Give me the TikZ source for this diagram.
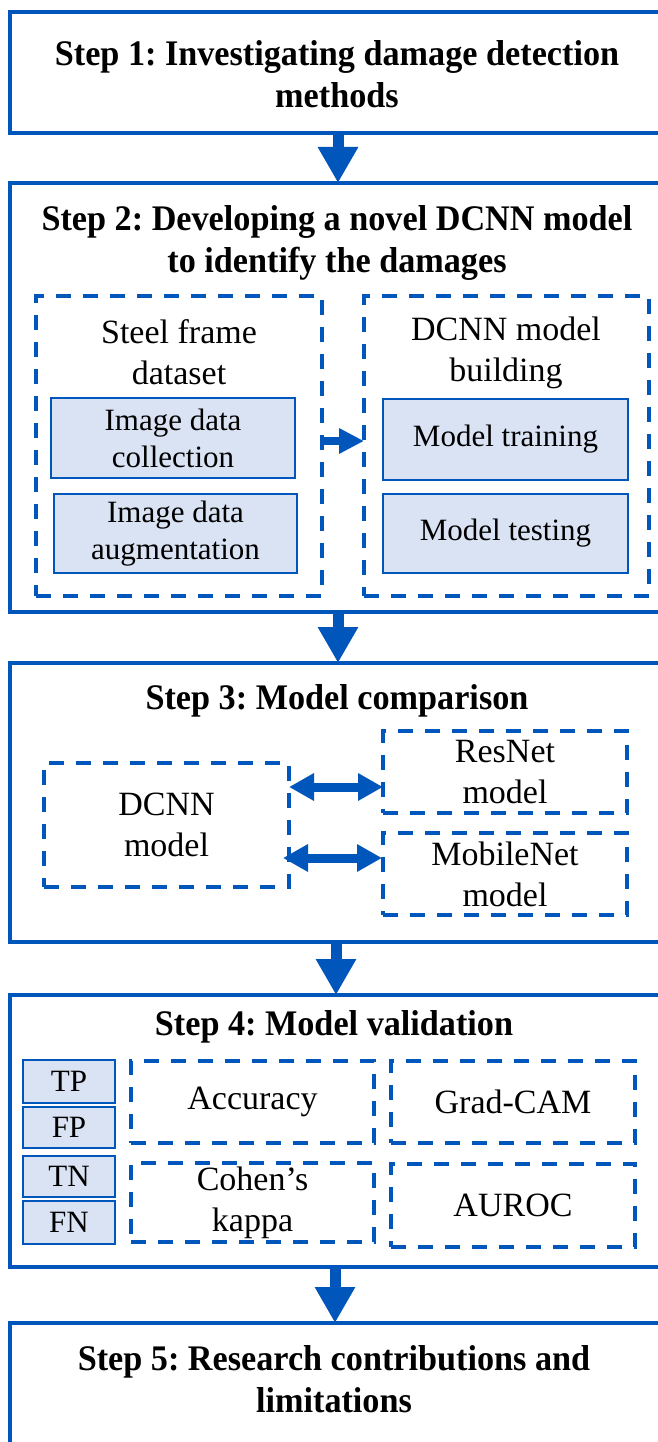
\documentclass[tikz,border=0pt]{standalone}
\usepackage{fontspec}
\setmainfont{Liberation Serif}[BoldFeatures={FakeStretch=0.95}]
\usetikzlibrary{arrows.meta}
\definecolor{flowblue}{RGB}{0,86,186}
\definecolor{cellfill}{RGB}{218,227,243}
\frenchspacing

\begin{document}
\begin{tikzpicture}[x=1pt,y=-1pt,
  % rectangle given by its corners: x1/y1/x2/y2
  rect/.style args={#1/#2/#3/#4}{inner sep=0pt, outer sep=0pt,
    minimum width={(#3)-(#1)}, minimum height={(#4)-(#2)},
    at={({((#1)+(#3))/2},{((#2)+(#4))/2})}},
  stepbox/.style={draw=flowblue, line width=3.5pt, fill=white},
  groupbox/.style={draw=flowblue, line width=3.5pt, dash pattern=on 15pt off 12pt},
  cellbox/.style={draw=flowblue, line width=2.5pt, fill=cellfill},
  titletext/.style={font=\fontsize{36}{42}\selectfont\bfseries, align=center, inner sep=0pt},
  grouptext/.style={font=\fontsize{34}{41}\selectfont, align=center},
  celltext/.style={font=\fontsize{31}{37}\selectfont, align=center},
  bigarrow/.style={draw=flowblue, line width=11pt, -{Triangle[width=38pt,length=36pt]}},
  smallarrow/.style={draw=flowblue, line width=8pt, -{Triangle[width=24pt,length=25pt]}},
  dblarrow/.style={draw=flowblue, line width=9pt, {Triangle[width=26pt,length=25pt]}-{Triangle[width=26pt,length=25pt]}},
]
\useasboundingbox (0,0) rectangle (657,1442);
\fill[white] (0,0) rectangle (657,1442);

% ---- Step boxes ----
\node[stepbox, rect=10/12/666/133] (s1) {};
\node[stepbox, rect=10/183/666/612] (s2) {};
\node[stepbox, rect=10/663/666/942] (s3) {};
\node[stepbox, rect=10/995/666/1267] (s4) {};
\node[stepbox, rect=10/1323/666/1470] (s5) {};

\node[titletext] (t1) at (337,74) {Step 1: Investigating damage detection\\methods};
\node[titletext] (t2) at (337,243) {Step 2: Developing a novel DCNN model\\to identify the damages};
\node[titletext] (t3) at (337,701) {Step 3: Model comparison};
\node[titletext] (t4) at (334,1027) {Step 4: Model validation};
\node[titletext] (t5) at (334,1379) {Step 5: Research contributions and\\limitations};

% ---- Step 2 contents ----
\node[groupbox, rect=36/296/322/596] (dataset) {};
\node[grouptext] (datasettext) at (179,352) {Steel frame\\dataset};
\node[cellbox, rect=51/398/295/478, celltext] (idc) {Image data\\collection};
\node[cellbox, rect=54/494/297/573, celltext] (ida) {Image data\\augmentation};

\node[groupbox, rect=364/296/649/596] (building) {};
\node[grouptext] (buildingtext) at (506,353) {DCNN model\\building};
\node[cellbox, rect=383/399/628/480, celltext] (mtrain) {Model training};
\node[cellbox, rect=383/494/628/573, celltext] (mtest) {Model testing};

\draw[smallarrow] (dataset.east |- 0,441) -- (building.west |- 0,441);

% ---- Step 3 contents ----
\node[groupbox, rect=44/763/289/887, grouptext] (dcnn) {DCNN\\model};
\node[groupbox, rect=383/731/627/813, grouptext] (resnet) {ResNet\\model};
\node[groupbox, rect=383/833/627/915, grouptext] (mobile) {MobileNet\\model};

\draw[dblarrow] (dcnn.east |- 0,787) -- (resnet.west |- 0,787);
\draw[dblarrow] ([xshift=-6pt]dcnn.east |- 0,858) -- ([xshift=-1pt]mobile.west |- 0,858);

% ---- Step 4 contents ----
\node[cellbox, rect=23/1060/115/1103, celltext] (tp) {TP};
\node[cellbox, rect=23/1107/115/1148, celltext] (fp) {FP};
\node[cellbox, rect=23/1156/115/1197, celltext] (tn) {TN};
\node[cellbox, rect=23/1201/115/1244, celltext] (fn) {FN};

\node[groupbox, rect=131/1061/374/1143, grouptext] (acc) {Accuracy};
\node[groupbox, rect=391/1061/635/1143, grouptext] (gradcam) {Grad-CAM};
\node[groupbox, rect=131/1163/374/1242, grouptext] (kappa) {Cohen’s\\kappa};
\node[groupbox, rect=391/1164/635/1247, grouptext] (auroc) {AUROC};

% ---- Flow between steps ----
\draw[bigarrow] (s1.south -| 338,0) -- (s2.north -| 338,0);
\draw[bigarrow] (s2.south -| 338,0) -- (s3.north -| 338,0);
\draw[bigarrow] (s3.south -| 336,0) -- (s4.north -| 336,0);
\draw[bigarrow] (s4.south -| 335,0) -- (s5.north -| 335,0);
\end{tikzpicture}
\end{document}
